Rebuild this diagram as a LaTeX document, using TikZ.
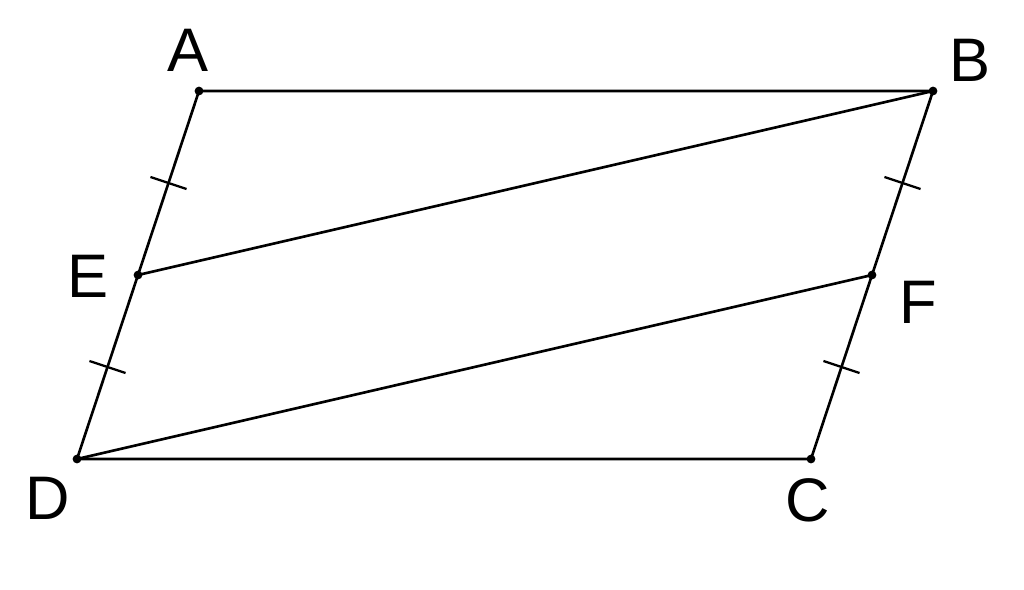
\documentclass[tikz,border=0pt]{standalone}
\usepackage{fontspec}
\setmainfont{Liberation Sans}
\usetikzlibrary{calc}
\begin{document}
\begin{tikzpicture}[x=0.02cm, y=-0.02cm, line width=1.5pt,
  every node/.style = {font=\fontsize{35}{40}\selectfont},
  pt/.style = {circle, fill, inner sep=0pt, minimum size=5pt},
  tick/.style = {line width=1.3pt}]
  \useasboundingbox (0,0) rectangle (1024,589);
  % vertices
  \coordinate (A) at (199,91);
  \coordinate (B) at (933,91);
  \coordinate (C) at (811,459);
  \coordinate (D) at (77,459);
  \coordinate (E) at (138,275);
  \coordinate (F) at (872,275);
  % sides and segments
  \draw (A) -- (B) -- (C) -- (D) -- cycle;
  \draw (E) -- (B);
  \draw (D) -- (F);
  % equal-length ticks
  \foreach \p/\q in {A/E, E/D, B/F, F/C} {
    \coordinate (m\p\q) at ($(\p)!.5!(\q)$);
    \draw[tick] ($(m\p\q)!0.38cm!90:(\q)$) -- ($(m\p\q)!0.38cm!-90:(\q)$);
  }
  % points
  \foreach \v in {A,B,C,D,E,F}
    \node[pt] at (\v) {};
  % labels
  \node (lA) at (188,50) {A};
  \node (lB) at (970,60) {B};
  \node (lE) at (88,276) {E};
  \node (lF) at (918,302) {F};
  \node (lD) at (48,498) {D};
  \node (lC) at (808,500) {C};
\end{tikzpicture}
\end{document}
